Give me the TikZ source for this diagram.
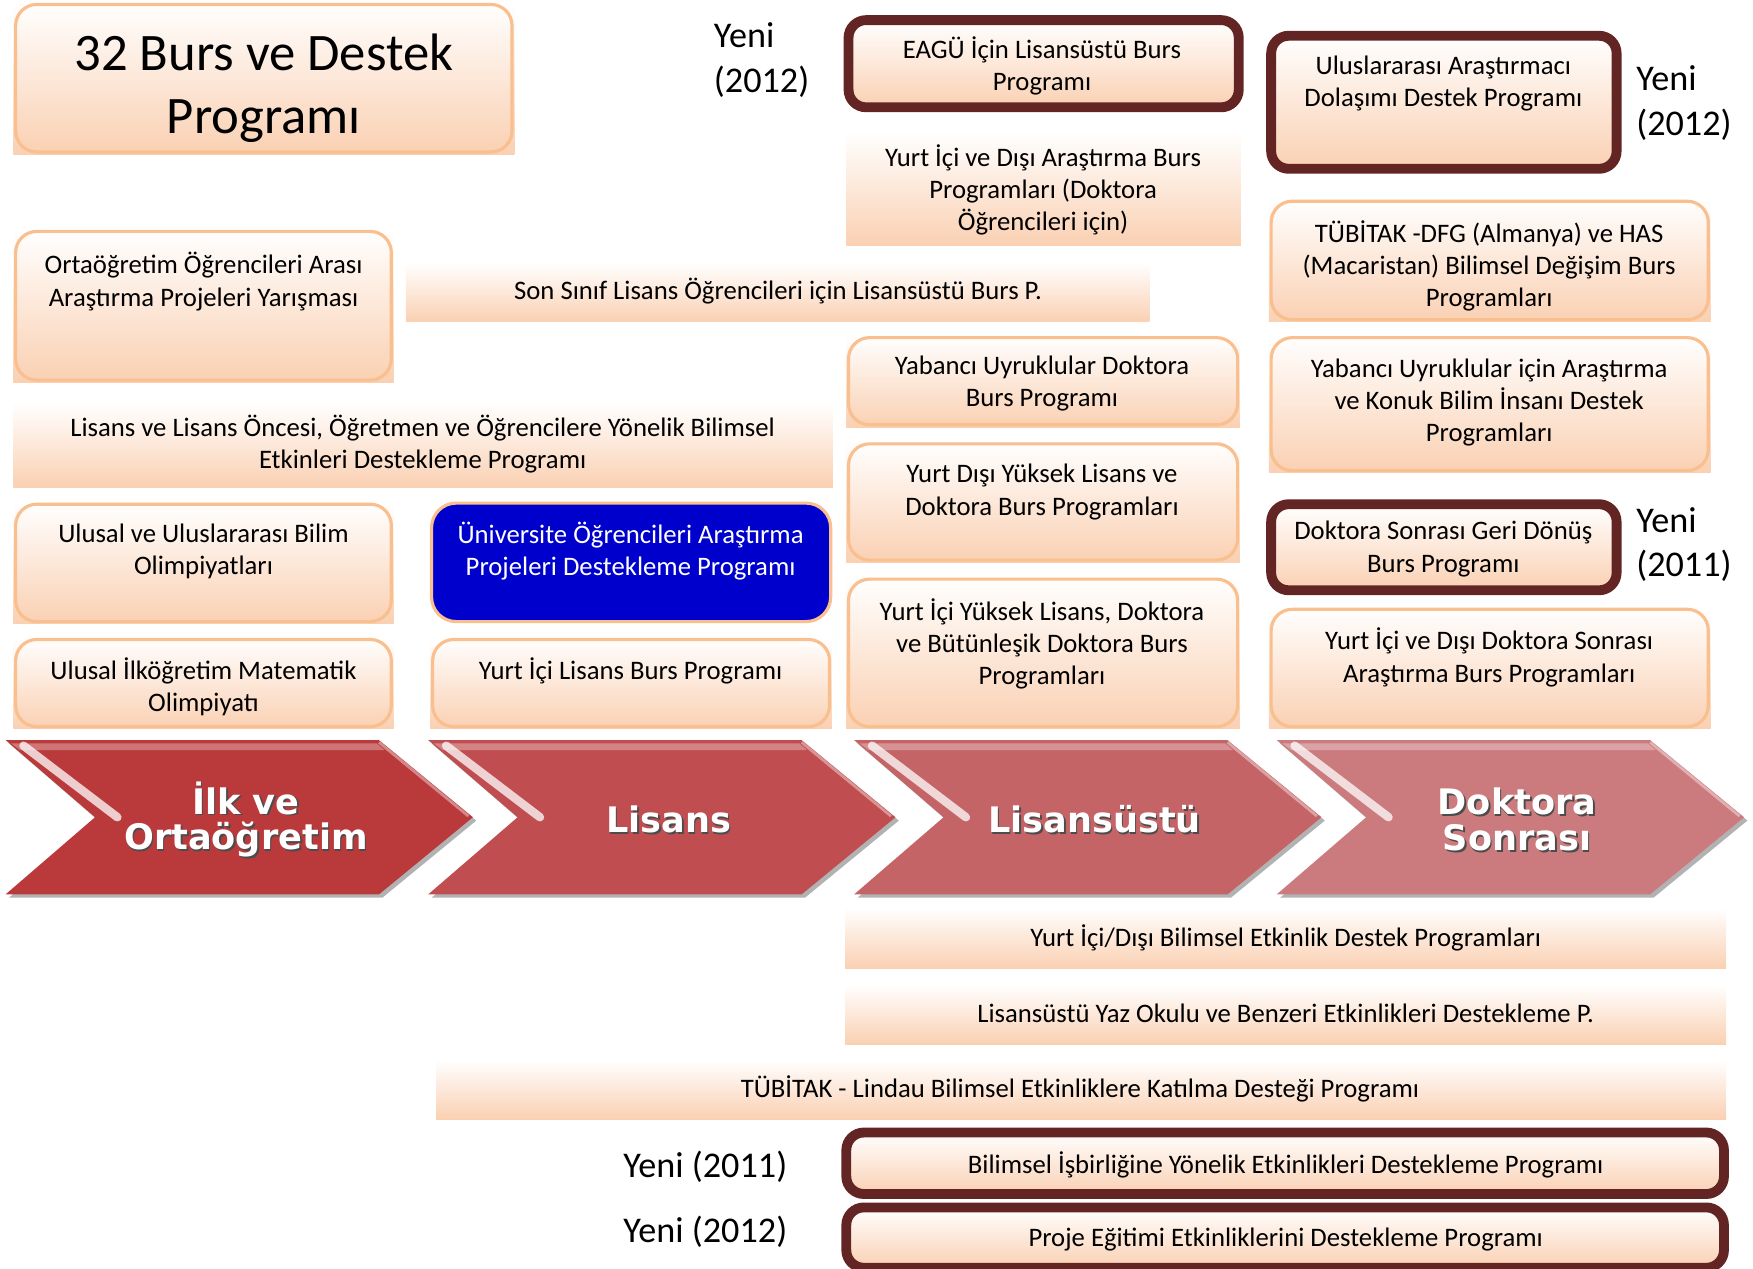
\documentclass[tikz,border=0pt]{standalone}
\usepackage{fontspec}
\setmainfont{Carlito}
\newfontfamily\stagefont{DejaVu Sans}
\definecolor{peach}{HTML}{FAD0B2}
\definecolor{boxline}{HTML}{F9BF8F}
\definecolor{newred}{HTML}{632523}
\definecolor{unibl}{HTML}{0000CC}
\definecolor{stageA}{HTML}{BA3A3C}
\definecolor{stageB}{HTML}{C04E50}
\definecolor{stageC}{HTML}{C56466}
\definecolor{stageD}{HTML}{CB7B7D}
\tikzset{
  grad/.style={top color=white, bottom color=peach},
  rbox/.style={draw=boxline, line width=0.9pt, rounded corners=6pt},
  newbox/.style={grad, draw=newred, line width=2.8pt, rounded corners=5pt},
  txt/.style={align=center, inner sep=0pt, font=\fontsize{7.6}{9.2}\selectfont},
  yeni/.style={align=left, anchor=west, inner sep=0pt, font=\fontsize{10.3}{12.7}\selectfont},
  stage/.style={align=center, inner sep=0pt, text=white, font=\stagefont\bfseries\fontsize{10}{10.2}\selectfont}
}
\begin{document}
\begin{tikzpicture}[x=0.01118cm, y=-0.01118cm]
\useasboundingbox (0,0) rectangle (1568,1135);

\foreach \xa/\ya/\xb/\yb in {12/2/460/138, 12/205/352/342, 1135/178/1530/288, 757/300/1109/382, 1135/300/1530/423,
  757/395/1109/503, 12/449/352/558, 757/516/1109/652, 1135/543/1530/652, 12/570/352/652, 385/570/744/652}{
  \shade[grad] (\xa,\ya) rectangle (\xb,\yb);
  \draw[rbox] (\xa+2,\ya+2) rectangle (\xb-2,\yb-2);
}
\foreach \xa/\ya/\xb/\yb in {757/118/1110/220, 363/235/1028/288, 12/360/745/436, 756/812/1544/866, 756/881/1544/934, 390/948/1544/1001}
  \shade[grad] (\xa,\ya) rectangle (\xb,\yb);
\foreach \xa/\ya/\xb/\yb in {759/18/1108/96, 1137/32/1446/151, 1137/451/1446/528, 757/1013/1542/1068, 757/1080/1542/1134}
  \draw[newbox] (\xa,\ya) rectangle (\xb,\yb);
\draw[fill=unibl, draw=boxline, line width=0.9pt, rounded corners=7pt] (386,450) rectangle (743,556);

\foreach \x/\col/\nm/\lbl in {5/stageA/ilk/{İlk ve\\Ortaöğretim}, 383/stageB/lis/Lisans, 764/stageC/lu/Lisansüstü, 1142/stageD/ds/{Doktora\\Sonrası}}{
  \fill[black!30] (\x+3,665) -- ++(334,0) -- ++(84,69) -- ++(-84,69) -- ++(-334,0) -- ++(80,-69) -- cycle;
  \fill[\col] (\x,662) -- ++(334,0) -- ++(84,69) -- ++(-84,69) -- ++(-334,0) -- ++(80,-69) -- cycle;
  \fill[white, opacity=0.3] (\x+5,665) -- ++(327,0) -- ++(7,6) -- ++(-326,0) -- cycle;
  \draw[white, line width=2.4pt, opacity=0.75, line cap=round] (\x+16,667) -- (\x+100,731);
  \draw[white, line width=0.8pt, opacity=0.4] (\x+334,664) -- (\x+414,730);
  \node[stage, text=black!70] at (\x+216.5,734.5) {\lbl};
  \node[stage] (\nm) at (\x+215,733) {\lbl};
}

\node[align=center, inner sep=0pt, font=\fontsize{15}{17.8}\selectfont] (title) at (236,79) {32 Burs ve Destek\\Programı};
\node[yeni] (yeniA) at (638,54) {Yeni\\(2012)};
\node[yeni] (yeniB) at (1463,92) {Yeni\\(2012)};
\node[yeni] (yeniC) at (1463,487) {Yeni\\(2011)};
\node[yeni] (yeniD) at (557,1044) {Yeni (2011)};
\node[yeni] (yeniE) at (557,1102) {Yeni (2012)};

\node[txt] (eagu) at (932,59) {EAGÜ İçin Lisansüstü Burs\\Programı};
\node[txt] (yida) at (933,170) {Yurt İçi ve Dışı Araştırma Burs\\Programları (Doktora\\Öğrencileri için)};
\node[txt] (uadd) at (1291,75) {Uluslararası Araştırmacı\\Dolaşımı Destek Programı};
\node[txt] (tdfg) at (1332,238) {TÜBİTAK -DFG (Almanya) ve HAS\\(Macaristan) Bilimsel Değişim Burs\\Programları};
\node[txt] (ortao) at (182,252) {Ortaöğretim Öğrencileri Arası\\Araştırma Projeleri Yarışması};
\node[txt] (sonsinif) at (696,260) {Son Sınıf Lisans Öğrencileri için Lisansüstü Burs P.};
\node[txt] (yudok) at (932,343) {Yabancı Uyruklular Doktora\\Burs Programı};
\node[txt] (yuara) at (1332,360) {Yabancı Uyruklular için Araştırma\\ve Konuk Bilim İnsanı Destek\\Programları};
\node[txt] (lisans) at (378,397) {Lisans ve Lisans Öncesi, Öğretmen ve Öğrencilere Yönelik Bilimsel\\Etkinleri Destekleme Programı};
\node[txt] (ydyl) at (932,440) {Yurt Dışı Yüksek Lisans ve\\Doktora Burs Programları};
\node[txt] (dsgd) at (1291,491) {Doktora Sonrası Geri Dönüş\\Burs Programı};
\node[txt] (ulbil) at (182,493) {Ulusal ve Uluslararası Bilim\\Olimpiyatları};
\node[txt, text=white] (unibox) at (564,493) {Üniversite Öğrencileri Araştırma\\Projeleri Destekleme Programı};
\node[txt] (yiyl) at (932,576) {Yurt İçi Yüksek Lisans, Doktora\\ve Bütünleşik Doktora Burs\\Programları};
\node[txt] (yidds) at (1332,588) {Yurt İçi ve Dışı Doktora Sonrası\\Araştırma Burs Programları};
\node[txt] (ulmat) at (182,614) {Ulusal İlköğretim Matematik\\Olimpiyatı};
\node[txt] (yilis) at (564,600) {Yurt İçi Lisans Burs Programı};
\node[txt] (etkin) at (1150,839) {Yurt İçi/Dışı Bilimsel Etkinlik Destek Programları};
\node[txt] (yazok) at (1150,906) {Lisansüstü Yaz Okulu ve Benzeri Etkinlikleri Destekleme P.};
\node[txt] (lindau) at (966,974) {TÜBİTAK - Lindau Bilimsel Etkinliklere Katılma Desteği Programı};
\node[txt] (isbir) at (1150,1042) {Bilimsel İşbirliğine Yönelik Etkinlikleri Destekleme Programı};
\node[txt] (proje) at (1150,1109) {Proje Eğitimi Etkinliklerini Destekleme Programı};
\end{tikzpicture}
\end{document}
